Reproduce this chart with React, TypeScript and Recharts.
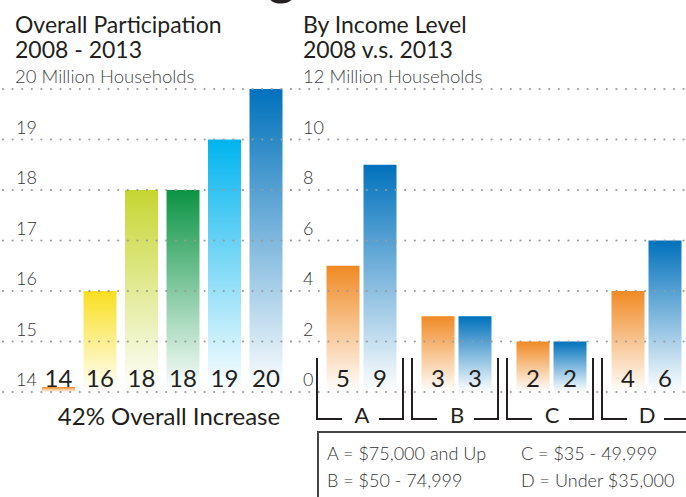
import React from 'react';
import { BarChart, Bar, XAxis, YAxis, ReferenceLine, Cell, LabelList } from 'recharts';

const FONT = 'Lato, "Open Sans", sans-serif';
const INK = '#231f20';

// left panel: overall participation, million households
const overallYears = ['2008', '2009', '2010', '2011', '2012', '2013'];
const overallValues = [14, 16, 18, 18, 19, 20];
const overallColors = ['#f08a24', '#f9df1f', '#c5d630', '#0b9444', '#00b4ef', '#0071bc'];
const overallTicks = [14, 15, 16, 17, 18, 19, 20];

// right panel: by income level
const incomeLevels = ['A', 'B', 'C', 'D'];
const income2008 = [5, 3, 2, 4];
const income2013 = [9, 3, 2, 6];
const incomeTicks = [0, 2, 4, 6, 8, 10, 12];
const color2008 = '#f08a24';
const color2013 = '#0071bc';

const legendLeft = ['A = $75,000 and Up', 'B = $50 - 74,999'];
const legendRight = ['C = $35 - 49,999', 'D = Under $35,000'];

const overallData = overallYears.map((year, i) => ({ year, value: overallValues[i] }));
const incomeData = incomeLevels.map((level, i) => ({ level, y2008: income2008[i], y2013: income2013[i] }));

const Fade = ({ id, color }: { id: string; color: string }) => (
  <linearGradient id={id} x1="0" y1="0" x2="0" y2="1">
    <stop offset="0%" stopColor={color} />
    <stop offset="100%" stopColor="#ffffff" />
  </linearGradient>
);

const makeTick = (top: number) => (props: any) => {
  const { x, y, payload } = props;
  if (payload.value === top) return <g />;
  return (
    <text x={x} y={y - 6} textAnchor="start" fontFamily={FONT} fontSize={18} fontWeight={300} fill="#333">
      {payload.value}
    </text>
  );
};

const valueLabel = (props: any) => {
  const { x, y, width, height, value } = props;
  return (
    <text x={x + width / 2} y={y + height - 5} textAnchor="middle" fontFamily={FONT} fontSize={24} fill={INK}>
      {value}
    </text>
  );
};

const BracketTick = (props: any) => {
  const { x, y, payload } = props;
  const top = y - 34;
  const bottom = y + 27;
  return (
    <g stroke={INK} strokeWidth={2} fill="none">
      <polyline points={`${x - 44},${top} ${x - 44},${bottom} ${x - 19},${bottom}`} />
      <polyline points={`${x + 18},${bottom} ${x + 42},${bottom} ${x + 42},${top}`} />
      <text x={x + 1} y={y + 31} textAnchor="middle" fontFamily={FONT} fontSize={22} fill={INK} stroke="none">
        {payload.value}
      </text>
    </g>
  );
};

const dots = { stroke: '#9a9a9a', strokeWidth: 2.2, strokeDasharray: '0 9.6', strokeLinecap: 'round' as const };

export default function App() {
  return (
    <div style={{ position: 'absolute', left: 0, top: 0, width: 686, height: 497, overflow: 'hidden', background: '#fff' }}>
      <div style={{ position: 'absolute', left: 0, top: 0 }}>
        <BarChart width={300} height={497} data={overallData} margin={{ top: 89, right: 5, bottom: 105, left: 3 }}>
          <defs>
            {overallColors.map((c, i) => (
              <Fade key={i} id={`overall-${i}`} color={c} />
            ))}
          </defs>
          <XAxis dataKey="year" hide padding={{ left: 35, right: 8 }} />
          <YAxis
            domain={[14, 20]}
            ticks={overallTicks}
            mirror
            axisLine={false}
            tickLine={false}
            tickSize={0}
            tickMargin={13}
            tick={makeTick(20)}
          />
          <Bar dataKey="value" barSize={33} minPointSize={5} isAnimationActive={false}>
            {overallData.map((_, i) => (
              <Cell key={i} fill={`url(#overall-${i})`} />
            ))}
            <LabelList dataKey="value" content={valueLabel} />
          </Bar>
          {overallTicks.map((t) => (
            <ReferenceLine key={t} y={t} {...dots} />
          ))}
        </BarChart>
      </div>

      <div style={{ position: 'absolute', left: 290, top: 0 }}>
        <BarChart width={420} height={497} data={incomeData} barGap={4} margin={{ top: 89, right: 0, bottom: 75, left: 0 }}>
          <defs>
            <Fade id="inc-2008" color={color2008} />
            <Fade id="inc-2013" color={color2013} />
          </defs>
          <XAxis
            dataKey="level"
            height={30}
            axisLine={false}
            tickLine={false}
            tickSize={0}
            tickMargin={0}
            padding={{ left: 23.5, right: 16.5 }}
            tick={<BracketTick />}
            interval={0}
          />
          <YAxis
            domain={[0, 12]}
            ticks={incomeTicks}
            mirror
            axisLine={false}
            tickLine={false}
            tickSize={0}
            tickMargin={13}
            tick={makeTick(12)}
          />
          <Bar dataKey="y2008" barSize={33} fill="url(#inc-2008)" isAnimationActive={false}>
            <LabelList dataKey="y2008" content={valueLabel} />
          </Bar>
          <Bar dataKey="y2013" barSize={33} fill="url(#inc-2013)" isAnimationActive={false}>
            <LabelList dataKey="y2013" content={valueLabel} />
          </Bar>
          {incomeTicks.map((t) => (
            <ReferenceLine key={t} y={t} {...dots} />
          ))}
        </BarChart>
      </div>

      <div
        style={{
          position: 'absolute',
          left: 317,
          top: 431,
          width: 420,
          height: 90,
          borderTop: '2px solid #444',
          borderLeft: '2px solid #444',
        }}
      />

      <svg width={686} height={497} style={{ position: 'absolute', left: 0, top: 0, pointerEvents: 'none' }} fontFamily={FONT}>
        <text x={267} y={-7} fontSize={56} fill={INK}>g</text>
        <text x={15} y={33} fontSize={23} fill={INK}>Overall Participation</text>
        <text x={15} y={58} fontSize={23} fill={INK}>2008 - 2013</text>
        <text x={15} y={83} fontSize={18.5} fontWeight={300} fill="#444">20 Million Households</text>
        <text x={303} y={33} fontSize={23} fill={INK}>By Income Level</text>
        <text x={303} y={58} fontSize={23} fill={INK}>2008 v.s. 2013</text>
        <text x={303} y={83} fontSize={18.5} fontWeight={300} fill="#444">12 Million Households</text>
        <text x={169} y={425} textAnchor="middle" fontSize={24} fill={INK}>42% Overall Increase</text>
        {legendLeft.map((t, i) => (
          <text key={t} x={327} y={460 + i * 27} fontSize={18} fontWeight={300} fill="#333">{t}</text>
        ))}
        {legendRight.map((t, i) => (
          <text key={t} x={521} y={460 + i * 27} fontSize={18} fontWeight={300} fill="#333">{t}</text>
        ))}
      </svg>
    </div>
  );
}
